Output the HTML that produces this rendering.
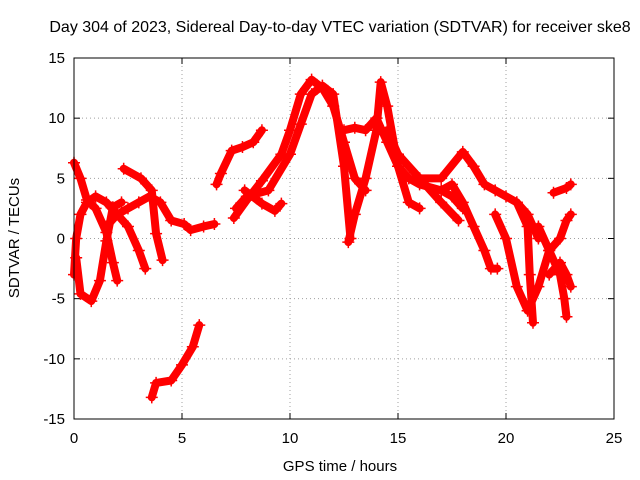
<!DOCTYPE html>
<html><head><meta charset="utf-8"><style>
body{margin:0;background:#fff;}
svg{display:block;font-family:"Liberation Sans",sans-serif;}
</style></head><body>
<svg id="chart" width="640" height="480" viewBox="0 0 640 480">
<rect width="640" height="480" fill="#fff"/>
<text x="340" y="32" font-size="16" text-anchor="middle">Day 304 of 2023, Sidereal Day-to-day VTEC variation (SDTVAR) for receiver ske8</text>
<text x="340" y="471" font-size="15" text-anchor="middle">GPS time / hours</text>
<text transform="translate(19,238) rotate(-90)" font-size="15" text-anchor="middle">SDTVAR / TECUs</text>
<g id="grid"></g>
<g id="ticks"></g>
<g id="series"></g>
<rect x="74" y="58" width="540" height="361" fill="none" stroke="#000" stroke-width="1"/>
</svg>
<script>
const xTicks=[0,5,10,15,20,25];
const yTicks=[-15,-10,-5,0,5,10,15];
const track1=[[0,6.3],[0.3,5],[0.6,3.2],[1,2.5],[1.5,0.5],[1.8,-2],[2,-3.5]];
const track2=[[0.1,-1.6],[0.3,-4.6],[0.8,-5.2],[1.2,-3.5],[1.5,-0.2],[1.8,2.6],[2.2,3]];
const track3=[[0,-3],[0.1,0],[0.3,2],[0.6,3],[1,3.5],[1.5,3],[2,2],[2.5,1],[3,-1],[3.3,-2.5]];
const track4=[[2.3,5.8],[3.1,5],[3.6,4],[3.8,0.4],[4.1,-1.8]];
const track5=[[1.5,1],[2,2],[2.5,2.5],[3,3],[3.5,3.5],[4,3],[4.5,1.5],[5.1,1.2],[5.4,0.7],[6,1],[6.5,1.2]];
const track6=[[3.6,-13.2],[3.8,-12],[4.5,-11.8],[5,-10.5],[5.5,-9],[5.8,-7.2]];
const track7=[[6.6,4.5],[6.8,5.4],[7.3,7.3],[7.8,7.6],[8.3,8],[8.7,9]];
const track8=[[7.4,1.7],[8,3.2],[8.7,4.8],[9.6,7],[10,9],[10.5,12],[11,13.2],[11.5,12.5],[12,11],[12.5,8],[13,5],[13.5,4]];
const track9=[[7.5,2.5],[8,3.5],[9,4],[10,7],[10.5,9.5],[11,12],[11.5,12.7],[12,12],[12.5,6],[12.8,0]];
const track10=[[7.9,4],[8.7,2.9],[9.3,2.3],[9.6,2.9]];
const track11=[[12.7,-0.3],[13,2],[13.5,5],[14,9],[14.2,13],[14.5,11],[15,6],[15.5,3],[16,2.5]];
const track12=[[12.5,9],[13,9.2],[13.5,9],[14,10],[14.5,8],[15,6],[15.5,5],[16,4.5],[17,4],[17.5,3.5],[18,2.5]];
const track13=[[14.5,9],[15,7],[16,5],[17,3],[17.8,1.5]];
const track14=[[16,5],[17,5],[18,7.2],[18.5,6],[19,4.5],[19.5,4],[20,3.5],[20.5,3],[21,2],[21.5,0]];
const track15=[[17,4],[17.5,4.5],[18,3],[18.5,1],[19,-1],[19.3,-2.5],[19.6,-2.5]];
const track16=[[19.5,2],[20,0],[20.5,-4],[21,-6],[21.5,-4],[22,-1],[22.5,0],[22.8,1.5],[23,2]];
const track17=[[21.5,1],[22,-1],[22.5,-3],[22.7,-5],[22.8,-6.5]];
const track18=[[20.5,3],[21,1],[21.1,-3],[21.25,-7]];
const track19=[[22,-3],[22.5,-2],[22.8,-3],[23,-4]];
const track20=[[22.2,3.8],[22.8,4.2],[23,4.5]];
const tracks=[track1,track2,track3,track4,track5,track6,track7,track8,track9,track10,track11,track12,track13,track14,track15,track16,track17,track18,track19,track20];

const X0=74,X1=614,Y0=419,Y1=58;
function sx(t){return X0+(t-0)/(25-0)*(X1-X0);}
function sy(v){return Y0-(v+15)/30*(Y0-Y1);}
const NS='http://www.w3.org/2000/svg';
function mk(tag,attrs,parent){const e=document.createElementNS(NS,tag);for(const k in attrs)e.setAttribute(k,attrs[k]);parent.appendChild(e);return e;}
const grid=document.getElementById('grid'),ticks=document.getElementById('ticks'),ser=document.getElementById('series');
xTicks.forEach(t=>{
  const x=sx(t);
  if(t>0&&t<25){const g=mk('line',{x1:x,x2:x,y1:Y1,y2:Y0,stroke:'#a0a0a0','stroke-dasharray':'1,3'},grid);
  
  }
  mk('line',{x1:x,x2:x,y1:Y0,y2:Y0-6,stroke:'#000'},ticks);
  mk('line',{x1:x,x2:x,y1:Y1,y2:Y1+6,stroke:'#000'},ticks);
  const l=mk('text',{x:x,y:Y0+24,'font-size':15,'text-anchor':'middle'},ticks);
  l.textContent=t;
  
  
});
yTicks.forEach(v=>{
  const y=sy(v);
  if(v>-15&&v<15){const g=mk('line',{x1:X0,x2:X1,y1:y,y2:y,stroke:'#a0a0a0','stroke-dasharray':'1,3'},grid);
  
  }
  mk('line',{x1:X0,x2:X0+6,y1:y,y2:y,stroke:'#000'},ticks);
  mk('line',{x1:X1,x2:X1-6,y1:y,y2:y,stroke:'#000'},ticks);
  const l=mk('text',{x:X0-9,y:y+5,'font-size':15,'text-anchor':'end'},ticks);
  l.textContent=v;
  
  
});
tracks.forEach((tr,i)=>{
  const p=mk('polyline',{points:tr.map(d=>sx(d[0])+','+sy(d[1])).join(' '),fill:'none',stroke:'#ff0000','stroke-width':8,'stroke-linejoin':'round','stroke-linecap':'round'},ser);
  
  
  tr.forEach(d=>{
    const x=sx(d[0]),y=sy(d[1]);
    mk('path',{d:`M${x-6},${y}H${x+6}M${x},${y-6}V${y+6}`,stroke:'#ff0000','stroke-width':1.5},ser);
  });
});
</script>
</body></html>
